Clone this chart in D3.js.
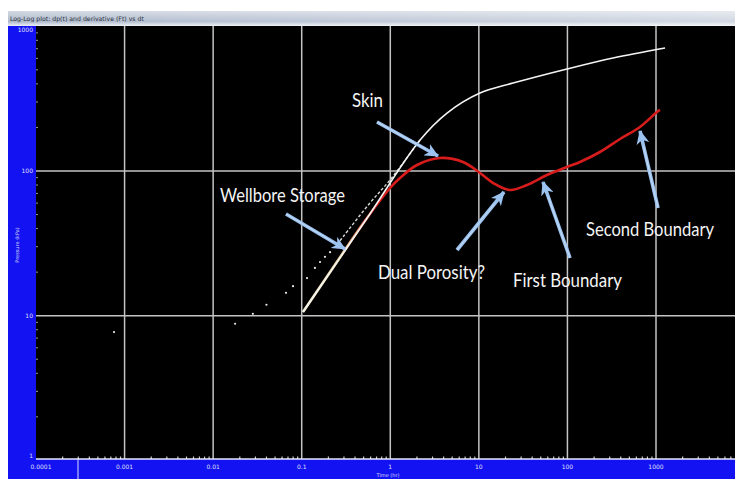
<!DOCTYPE html>
<html><head><meta charset="utf-8">
<script src="https://cdn.jsdelivr.net/npm/d3@7"></script>
<style>html,body{margin:0;padding:0;background:#fff;overflow:hidden}</style>
</head><body><svg id="c" width="735" height="479"></svg>
<script>
// ---------- data ----------
const chartTitle = "Log-Log plot: dp(t) and derivative (Ft) vs dt";
const xTitle = "Time (hr)";
const yTitle = "Pressure (kPa)";
const xTickValues = [0.0001, 0.001, 0.01, 0.1, 1, 10, 100, 1000];
const xTickLabels = ["0.0001", "0.001", "0.01", "0.1", "1", "10", "100", "1000"];
const yTickValues = [1, 10, 100, 1000];
const yTickLabels = ["1", "10", "100", "1000"];

// sparse early pressure points (dots)
const earlyTimes    = [0.00076, 0.0177, 0.0281, 0.040, 0.0665, 0.0798, 0.1148, 0.141, 0.161, 0.183, 0.209];
const earlyPressure = [7.7, 8.8, 10.3, 11.9, 14.4, 16.0, 18.2, 21.4, 23.5, 25.5, 27.5];
// early pressure trend (dashed)
const trendTimes    = [0.25, 0.292, 0.589, 0.993, 2.17];
const trendPressure = [31, 35.0, 60.1, 86.7, 163.8];
// pressure change (white)
const pressureTimes  = [0.1034, 0.52, 2.17, 4.37, 10.3, 24.3, 98.9, 327, 1264];
const pressureValues = [10.6, 45.1, 163.8, 251.6, 346, 405, 507, 604, 708];
// pressure derivative (red)
const derivTimes  = [0.1034, 0.292, 0.516, 0.993, 1.288, 2.00, 3.64, 6.62, 10.3, 14.5, 22.5, 35.0, 58.8, 98.9, 138.6, 233, 393, 660, 1026, 1109];
const derivValues = [10.6, 27.1, 45.1, 76.3, 89.5, 110, 123, 115.4, 96.9, 82.6, 73.9, 80.0, 93.8, 106.6, 115.4, 135.3, 166.4, 201.4, 255.7, 264];

const annotationLabels = ["Skin", "Wellbore Storage", "Dual Porosity?", "First Boundary", "Second Boundary"];

// ---------- layout ----------
const W = 735, H = 479;
const plot = {left: 36, top: 26, right: 735, bottom: 459};
const svg = d3.select("#c");
const defs = svg.append("defs");

const x = d3.scaleLog().domain([1e-4, 1e3]).range([36, 656]);
const y = d3.scaleLog().domain([1, 1000]).range([460.4, 26.3]);

// title bar
const tg = defs.append("linearGradient").attr("id", "tbar").attr("x1", 0).attr("y1", 0).attr("x2", 0).attr("y2", 1);
tg.append("stop").attr("offset", 0).attr("stop-color", "#d4dae4");
tg.append("stop").attr("offset", 0.7).attr("stop-color", "#aeb9cc");
tg.append("stop").attr("offset", 1).attr("stop-color", "#eef0f4");
const tg2 = defs.append("linearGradient").attr("id", "tbar2").attr("x1", 0).attr("y1", 0).attr("x2", 1).attr("y2", 0);
tg2.append("stop").attr("offset", 0).attr("stop-color", "#ffffff").attr("stop-opacity", 0);
tg2.append("stop").attr("offset", 1).attr("stop-color", "#ffffff").attr("stop-opacity", 0.45);
svg.append("rect").attr("x", 8).attr("y", 11).attr("width", W - 8).attr("height", 15).attr("fill", "url(#tbar)");
svg.append("rect").attr("x", 8).attr("y", 11).attr("width", W - 8).attr("height", 15).attr("fill", "url(#tbar2)");
svg.append("text").attr("x", 10).attr("y", 20.5).attr("font-family", "DejaVu Sans").attr("font-size", 6.2)
  .attr("fill", "#2a2f3a").text(chartTitle);

// blue frame
svg.append("rect").attr("x", 8).attr("y", 26).attr("width", 28).attr("height", H - 26).attr("fill", "#1212f2");
svg.append("rect").attr("x", 8).attr("y", plot.bottom).attr("width", W - 8).attr("height", H - plot.bottom).attr("fill", "#1212f2");
// plot background
svg.append("rect").attr("x", plot.left).attr("y", plot.top).attr("width", plot.right - plot.left).attr("height", plot.bottom - plot.top).attr("fill", "#000");

const clip = defs.append("clipPath").attr("id", "pc");
clip.append("rect").attr("x", plot.left).attr("y", plot.top).attr("width", plot.right - plot.left).attr("height", plot.bottom - plot.top);

// grid
const grid = svg.append("g").attr("clip-path", "url(#pc)");
grid.selectAll("line.vx").data(xTickValues.slice(1)).join("line")
  .attr("x1", d => x(d)).attr("x2", d => x(d)).attr("y1", plot.top).attr("y2", plot.bottom)
  .attr("stroke", "#c4c4c4").attr("stroke-width", 1.5);
grid.selectAll("line.hy").data(yTickValues.slice(1, 3)).join("line")
  .attr("x1", plot.left).attr("x2", plot.right).attr("y1", d => y(d)).attr("y2", d => y(d))
  .attr("stroke", "#c4c4c4").attr("stroke-width", 1.6);

// minor ticks on bottom axis
const minorX = [];
for (let e = -4; e <= 3; e++) for (let m = 2; m <= 9; m++) minorX.push(m * Math.pow(10, e));
svg.append("line").attr("x1", plot.left).attr("x2", plot.right).attr("y1", plot.bottom).attr("y2", plot.bottom)
  .attr("stroke", "#e8e8ff").attr("stroke-width", 1.5);
svg.selectAll("line.mx").data(minorX.filter(d => x(d) < plot.right)).join("line")
  .attr("x1", d => x(d)).attr("x2", d => x(d)).attr("y1", plot.bottom - 2.5).attr("y2", plot.bottom)
  .attr("stroke", "#ffffff").attr("stroke-width", 1.2).attr("opacity", 0.8);
// minor ticks on left axis
const minorY = [];
for (let e = 0; e <= 2; e++) for (let m = 2; m <= 9; m++) minorY.push(m * Math.pow(10, e));
svg.selectAll("line.my").data(minorY).join("line")
  .attr("x1", plot.left).attr("x2", plot.left + 2).attr("y1", d => y(d)).attr("y2", d => y(d))
  .attr("stroke", "#ffffff").attr("stroke-width", 1).attr("opacity", 0.6);
svg.append("line").attr("x1", 78).attr("x2", 78).attr("y1", plot.bottom).attr("y2", H)
  .attr("stroke", "#dcdcff").attr("stroke-width", 1);

// tick labels
svg.selectAll("text.xl").data(xTickValues).join("text")
  .attr("x", (d, i) => i === 0 ? x(d) + 5 : x(d)).attr("y", 469)
  .attr("text-anchor", "middle").attr("font-family", "DejaVu Sans").attr("font-size", 6)
  .attr("fill", "#ffffff").attr("opacity", 0.85).text((d, i) => xTickLabels[i]);
svg.selectAll("text.yl").data(yTickValues).join("text")
  .attr("x", 33).attr("y", d => d === 1000 ? 32 : (d === 1 ? 458 : y(d) + 2))
  .attr("text-anchor", "end").attr("font-family", "DejaVu Sans").attr("font-size", 6)
  .attr("fill", "#ffffff").attr("opacity", 0.85).text((d, i) => yTickLabels[i]);
svg.append("text").attr("x", 388).attr("y", 477).attr("text-anchor", "middle")
  .attr("font-family", "DejaVu Sans").attr("font-size", 5).attr("fill", "#ffffff").attr("opacity", 0.8).text(xTitle);
svg.append("text").attr("transform", "translate(19,245) rotate(-90)").attr("text-anchor", "middle")
  .attr("font-family", "DejaVu Sans").attr("font-size", 5).attr("fill", "#ffffff").attr("opacity", 0.8).text(yTitle);

// ---------- series ----------
const series = svg.append("g").attr("clip-path", "url(#pc)");
const zip = (a, b) => a.map((t, i) => [t, b[i]]);
const line = d3.line().x(d => x(d[0])).y(d => y(d[1])).curve(d3.curveCatmullRom.alpha(0.5));

// derivative gradient (yellowish where it overlaps the pressure line)
const dg = defs.append("linearGradient").attr("id", "dg").attr("gradientUnits", "userSpaceOnUse")
  .attr("x1", x(0.1)).attr("x2", x(0.7)).attr("y1", 0).attr("y2", 0);
dg.append("stop").attr("offset", 0).attr("stop-color", "#f2eec0");
dg.append("stop").attr("offset", 0.55).attr("stop-color", "#e6c890");
dg.append("stop").attr("offset", 1).attr("stop-color", "#d81c1c");

series.append("path").datum(zip(derivTimes, derivValues)).attr("d", line)
  .attr("fill", "none").attr("stroke", "url(#dg)").attr("stroke-width", 2.6).attr("stroke-linejoin", "round");

series.selectAll("circle.e").data(zip(earlyTimes, earlyPressure)).join("circle")
  .attr("cx", d => x(d[0])).attr("cy", d => y(d[1])).attr("r", 1.1).attr("fill", "#e8e8e8");
series.append("path").datum(zip(trendTimes, trendPressure)).attr("d", line)
  .attr("fill", "none").attr("stroke", "#d8d8d8").attr("stroke-width", 1.4).attr("stroke-dasharray", "3,2");
series.append("path").datum(zip(pressureTimes, pressureValues)).attr("d", line)
  .attr("fill", "none").attr("stroke", "#f4f4f4").attr("stroke-width", 1.6).attr("stroke-linejoin", "round");

// ---------- annotations ----------
const ag = defs.append("marker").attr("id", "ah").attr("markerUnits", "userSpaceOnUse")
  .attr("markerWidth", 15).attr("markerHeight", 13).attr("refX", 13).attr("refY", 6.5).attr("orient", "auto");
ag.append("path").attr("d", "M0,0 L14,6.5 L0,13 L4,6.5 Z").attr("fill", "#9cc2f0");

const annLayout = [
  {tx: 352, ty: 107, w: 31, ax1: 377, ay1: 122, ax2: 438, ay2: 156},
  {tx: 220, ty: 202, w: 125, ax1: 286, ay1: 214, ax2: 345, ay2: 249},
  {tx: 378, ty: 279, w: 107, ax1: 457, ay1: 250, ax2: 504, ay2: 192},
  {tx: 513, ty: 287, w: 109, ax1: 570, ay1: 258, ax2: 543, ay2: 182},
  {tx: 586, ty: 236, w: 128, ax1: 658, ay1: 208, ax2: 640, ay2: 131}
];
const ann = svg.append("g");
annLayout.forEach((a, i) => {
  ann.append("line").attr("x1", a.ax1).attr("y1", a.ay1).attr("x2", a.ax2).attr("y2", a.ay2)
    .attr("stroke", "#9cc2f0").attr("stroke-width", 3.6).attr("marker-end", "url(#ah)");
  ann.append("line").attr("x1", a.ax1).attr("y1", a.ay1).attr("x2", a.ax1 + (a.ax2 - a.ax1) * 0.8).attr("y2", a.ay1 + (a.ay2 - a.ay1) * 0.8)
    .attr("stroke", "#d8e8fa").attr("stroke-width", 1).attr("opacity", 0.7);
  ann.append("text").attr("x", a.tx).attr("y", a.ty)
    .attr("font-family", "Lato").attr("font-size", 19).attr("fill", "#f4f4f4")
    .attr("textLength", a.w).attr("lengthAdjust", "spacingAndGlyphs")
    .text(annotationLabels[i]);
});
</script>
</body></html>
